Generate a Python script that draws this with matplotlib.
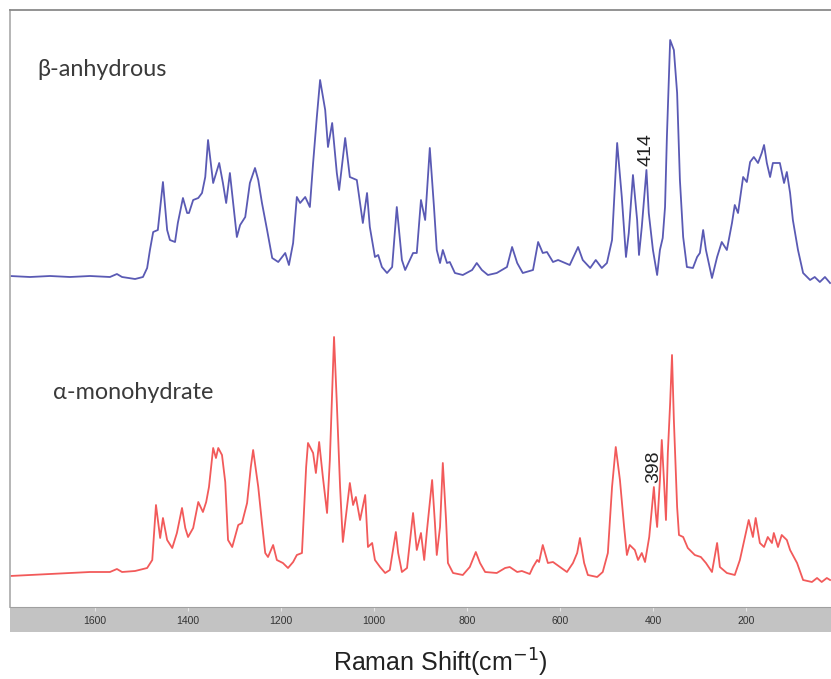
import matplotlib.pyplot as plt
import matplotlib.transforms as mtransforms
import numpy as np

# Raman spectra of the two lactose forms (wavenumber in cm-1, intensity in a.u.)
beta_wn = [1783, 1740, 1697, 1654, 1611, 1568, 1553, 1542, 1514, 1497, 1488, 1482,
           1475, 1465, 1454, 1445, 1439, 1428, 1422, 1411, 1402, 1398, 1389, 1378,
           1370, 1363, 1357, 1346, 1333, 1325, 1318, 1310, 1303, 1295, 1288, 1277,
           1267, 1256, 1249, 1241, 1230, 1219, 1206, 1191, 1183, 1174, 1166, 1159,
           1148, 1138, 1131, 1123, 1116, 1105, 1099, 1090, 1080, 1075, 1062, 1052,
           1037, 1024, 1015, 1009, 998, 991, 983, 972, 961, 951, 940, 933, 916, 908,
           899, 890, 880, 871, 865, 858, 852, 843, 837, 826, 809, 789, 779, 768, 755,
           736, 714, 703, 692, 680, 658, 647, 637, 628, 615, 604, 579, 561, 551, 535,
           523, 510, 499, 488, 477, 467, 458, 452, 443, 434, 430, 424, 414, 409, 400,
           391, 385, 379, 374, 370, 363, 355, 348, 342, 335, 327, 314, 305, 299, 292,
           286, 273, 262, 252, 241, 230, 224, 217, 206, 198, 191, 183, 174, 166, 161,
           155, 148, 142, 127, 118, 112, 105, 99, 88, 77, 62, 52, 41, 30, 19]
beta_int = [1, 0, 1, 0, 1, 0, 3, 0, -2, 0, 9, 27,
            45, 47, 95, 47, 37, 35, 54, 79, 64, 64, 77, 79,
            84, 100, 137, 94, 114, 94, 74, 104, 74, 40, 52, 60,
            94, 109, 97, 74, 47, 19, 15, 24, 12, 34, 80, 74,
            80, 70, 114, 160, 197, 167, 130, 154, 104, 87, 139, 100,
            97, 54, 84, 50, 20, 22, 10, 4, 10, 70, 17, 7, 24, 24,
            77, 57, 129, 70, 27, 14, 27, 14, 15, 4, 2, 7, 14, 7, 2,
            4, 10, 30, 14, 4, 7, 35, 24, 25, 15, 17, 12, 30, 17, 9,
            17, 9, 14, 37, 134, 80, 20, 44, 102, 57, 22, 50, 107, 64, 27,
            2, 27, 39, 70, 140, 237, 227, 184, 97, 40, 10, 9, 20, 24, 47,
            27, -1, 20, 35, 27, 54, 72, 64, 100, 95, 115, 120, 114, 124, 132,
            114, 100, 114, 114, 94, 105, 84, 57, 27, 4, -3, 0, -5, 0, -6]

alpha_wn = [1783, 1740, 1697, 1654, 1611, 1568, 1553, 1542, 1514, 1497, 1488, 1477,
            1469, 1460, 1454, 1445, 1434, 1424, 1413, 1406, 1400, 1389, 1378, 1368,
            1361, 1355, 1346, 1340, 1335, 1327, 1320, 1314, 1305, 1299, 1292, 1284,
            1273, 1265, 1260, 1249, 1241, 1234, 1228, 1217, 1209, 1196, 1185, 1174,
            1166, 1155, 1146, 1142, 1131, 1125, 1118, 1110, 1101, 1095, 1086, 1080,
            1073, 1067, 1058, 1052, 1045, 1039, 1030, 1019, 1013, 1004, 998, 987,
            976, 966, 953, 948, 940, 929, 916, 908, 899, 892, 886, 875, 869, 865,
            858, 852, 845, 841, 830, 809, 794, 781, 772, 761, 736, 718, 708, 692,
            682, 665, 658, 649, 645, 637, 626, 615, 600, 585, 572, 563, 557, 548,
            540, 520, 508, 497, 488, 480, 471, 462, 456, 450, 439, 432, 424, 417,
            408, 398, 394, 391, 385, 381, 376, 372, 368, 363, 359, 355, 348, 344,
            335, 325, 310, 297, 286, 273, 262, 256, 241, 224, 213, 202, 194, 185,
            179, 170, 161, 153, 144, 140, 131, 123, 112, 105, 90, 77, 58, 47, 37,
            26, 19]
alpha_int = [0, 1, 2, 3, 4, 4, 7, 4, 5, 7, 8, 16,
             71, 38, 58, 36, 28, 43, 68, 48, 39, 48, 74, 64,
             74, 89, 128, 118, 128, 121, 94, 36, 29, 39, 51, 53,
             73, 109, 126, 89, 53, 23, 19, 31, 16, 13, 8, 14,
             21, 23, 109, 133, 123, 103, 134, 99, 63, 116, 239, 173,
             89, 34, 69, 93, 71, 79, 56, 81, 29, 33, 16, 9,
             3, 6, 44, 23, 4, 8, 63, 26, 43, 16, 46, 96, 53, 21,
             49, 113, 56, 13, 3, 1, 9, 24, 13, 4, 3, 8, 9, 4,
             5, 2, 9, 16, 14, 31, 13, 14, 9, 4, 13, 23, 38, 13,
             1, -1, 4, 23, 89, 129, 96, 49, 21, 31, 26, 16, 23, 14,
             39, 89, 63, 49, 96, 136, 93, 56, 123, 173, 221, 156, 69, 41,
             39, 28, 21, 19, 13, 4, 33, 9, 3, 1, 16, 39, 56, 39,
             58, 33, 29, 39, 33, 43, 29, 41, 36, 26, 13, -4, -6, -2, -6,
             -2, -4]

beta_offset = 330
alpha_offset = 31
peak_labels = [("414", 414, "beta"), ("398", 398, "alpha")]
xticks = [1600, 1400, 1200, 1000, 800, 600, 400, 200]
xlim = (1783, 17)

fig = plt.figure(figsize=(8.31, 6.79), dpi=100)
W, H = 831, 679
ax = fig.add_axes([10 / W, 1 - 607 / H, 821 / W, 597 / H])
bar = fig.add_axes([10 / W, 1 - 632 / H, 821 / W, 25 / H])

ax.plot(beta_wn, np.array(beta_int) + beta_offset, color="#5a5ab4", lw=1.3,
        solid_joinstyle="round")
ax.plot(alpha_wn, np.array(alpha_int) + alpha_offset, color="#f25a5a", lw=1.3,
        solid_joinstyle="round")
ax.set_xlim(*xlim)
ax.set_ylim(0, 597)
ax.set_xticks([])
ax.set_yticks([])
ax.spines["top"].set_color("#8a8a8a")
ax.spines["top"].set_linewidth(1.3)
ax.spines["left"].set_color("#b0b0b0")
ax.spines["left"].set_linewidth(1.3)
ax.spines["right"].set_visible(False)
ax.spines["bottom"].set_color("#a8a8a8")

label_font = dict(family=["Lato", "DejaVu Sans"], fontsize=16.8, color="#3a3a3a")
ax.text(0.033, 0.90, "β-anhydrous", transform=ax.transAxes, va="center", **label_font)
ax.text(0.052, 0.36, "α-monohydrate", transform=ax.transAxes, va="center", **label_font)

series = {"beta": (beta_wn, beta_int, beta_offset), "alpha": (alpha_wn, alpha_int, alpha_offset)}
for txt, wn, key in peak_labels:
    xs, ys, off = series[key]
    yv = ys[xs.index(wn)] + off
    ax.annotate(txt, xy=(wn, yv), xytext=(0, 3), textcoords="offset points",
                rotation=90, ha="center", va="bottom", fontsize=14,
                family="Liberation Sans", color="#222222")

# grey scale bar underneath the spectra
bar.set_facecolor("#c3c3c3")
bar.set_xlim(*xlim)
bar.set_ylim(0, 1)
bar.set_yticks([])
bar.set_xticks(xticks)
bar.tick_params(axis="x", bottom=False, labelbottom=False, top=True, direction="in",
                length=3, color="#e6e6e6")
for s in bar.spines.values():
    s.set_visible(False)
bar.axhline(1, color="#a0a0a0", lw=1.5)
trans = mtransforms.blended_transform_factory(bar.transData, bar.transAxes)
for t in xticks:
    bar.text(t, 0.42, str(t), transform=trans, ha="center", va="center", fontsize=7.5,
             family="Liberation Sans", color="#333333")

fig.text(440 / W, 1 - 663 / H, "Raman Shift(cm$^{-1}$)", ha="center", va="center",
         fontsize=18, family="Liberation Sans", color="#222222")

fig.savefig("out.png", dpi=100)
plt.close()
